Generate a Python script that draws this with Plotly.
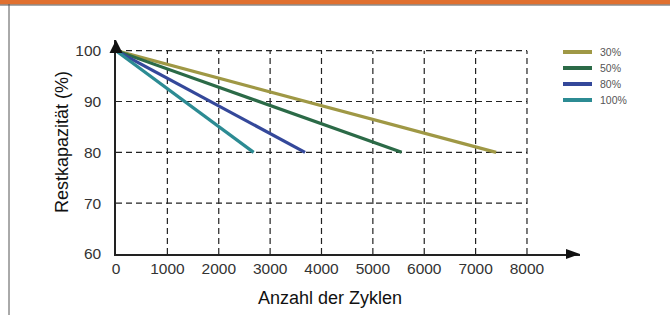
import plotly.graph_objects as go

# ---- data ----
series_names = ["30%", "50%", "80%", "100%"]
series_colors = ["#9f9845", "#2b6a47", "#34489a", "#2c8b93"]
cycles_start = [0, 0, 0, 0]
cycles_end = [7400, 5560, 3680, 2680]
capacity_start = [100, 100, 100, 100]
capacity_end = [80, 80, 80, 80]

x_ticks = [0, 1000, 2000, 3000, 4000, 5000, 6000, 7000, 8000]
y_ticks = [60, 70, 80, 90, 100]

W, H = 670, 315
ML, MR, MT, MB = 116, 90, 40, 61
PW, PH = W - ML - MR, H - MT - MB

def px(xp):
    return (xp - ML) / PW

def py(yp):
    return (H - MB - yp) / PH

fig = go.Figure()
for name, col, x0, x1, y0, y1 in zip(series_names, series_colors, cycles_start,
                                      cycles_end, capacity_start, capacity_end):
    fig.add_trace(go.Scatter(x=[x0, x1], y=[y0, y1], mode="lines", name=name,
                             line=dict(color=col, width=3.2), showlegend=False))

shapes = []
grid_style = dict(color="#222222", width=1.2, dash="6px,4px")
for xv in x_ticks[1:]:
    shapes.append(dict(type="line", xref="x", yref="y", x0=xv, x1=xv,
                       y0=y_ticks[0], y1=y_ticks[-1], line=grid_style, layer="below"))
for yv in y_ticks[1:]:
    shapes.append(dict(type="line", xref="x", yref="y", x0=x_ticks[0], x1=x_ticks[-1],
                       y0=yv, y1=yv, line=grid_style, layer="below"))

# arrow heads
ytip = 40
shapes.append(dict(type="path", xref="paper", yref="paper",
                   path=f"M {px(116)} {py(ytip)} L {px(109.5)} {py(ytip+13)} L {px(122.5)} {py(ytip+13)} Z",
                   fillcolor="#111111", line=dict(width=0)))
xtip = 580
shapes.append(dict(type="path", xref="paper", yref="paper",
                   path=f"M {px(xtip)} {py(254)} L {px(xtip-14)} {py(249)} L {px(xtip-14)} {py(259)} Z",
                   fillcolor="#111111", line=dict(width=0)))
# top orange bar and left border
shapes.append(dict(type="rect", xref="paper", yref="paper", x0=px(0), x1=px(W),
                   y0=py(4.5), y1=py(-1), fillcolor="#e0702f", line=dict(width=0)))
shapes.append(dict(type="line", xref="paper", yref="paper", x0=px(0), x1=px(W),
                   y0=py(5), y1=py(5), line=dict(color="#555555", width=1)))
shapes.append(dict(type="line", xref="paper", yref="paper", x0=px(9), x1=px(9),
                   y0=py(4), y1=py(H + 2), line=dict(color="#555555", width=1)))

annotations = [
    dict(text="Anzahl der Zyklen", xref="paper", yref="paper", x=px(330), y=py(298),
         showarrow=False, font=dict(size=18, color="#111111"), xanchor="center", yanchor="middle"),
    dict(text="Restkapazität (%)", xref="paper", yref="paper", x=px(62), y=py(142),
         showarrow=False, textangle=-90, font=dict(size=18, color="#111111"),
         xanchor="center", yanchor="middle"),
]

# legend (drawn manually to match the compact row spacing)
leg_x0, leg_x1, leg_text_x, leg_y0, leg_dy = 563, 592, 598, 52, 16
for i, (name, col) in enumerate(zip(series_names, series_colors)):
    yy = leg_y0 + i * leg_dy
    shapes.append(dict(type="line", xref="paper", yref="paper", x0=px(leg_x0), x1=px(leg_x1),
                       y0=py(yy), y1=py(yy), line=dict(color=col, width=4)))
    annotations.append(dict(text=name, xref="paper", yref="paper", x=px(leg_text_x), y=py(yy),
                            showarrow=False, xanchor="left", yanchor="middle",
                            font=dict(size=10.5, color="#555555")))

fig.update_layout(
    width=W, height=H,
    margin=dict(l=ML, r=MR, t=MT, b=MB),
    paper_bgcolor="white", plot_bgcolor="white",
    font=dict(family="Liberation Sans, Arial, sans-serif", color="#333333"),
    shapes=shapes, annotations=annotations,
    showlegend=False,
    xaxis=dict(range=[0, 9032], tickvals=x_ticks, showgrid=False, zeroline=False,
               showline=True, linecolor="#222222", linewidth=1.5, ticks="",
               tickfont=dict(size=15.5, color="#333333"), ticklabelstandoff=0,
               automargin=False),
    yaxis=dict(range=[60, 102.1], tickvals=y_ticks, showgrid=False, zeroline=False,
               showline=True, linecolor="#222222", linewidth=1.5, ticks="",
               tickfont=dict(size=15.5, color="#333333"), ticklabelstandoff=10,
               automargin=False),
)

fig.write_html("out.html", config={"displayModeBar": False},
               post_script="document.body.style.margin='0';")
